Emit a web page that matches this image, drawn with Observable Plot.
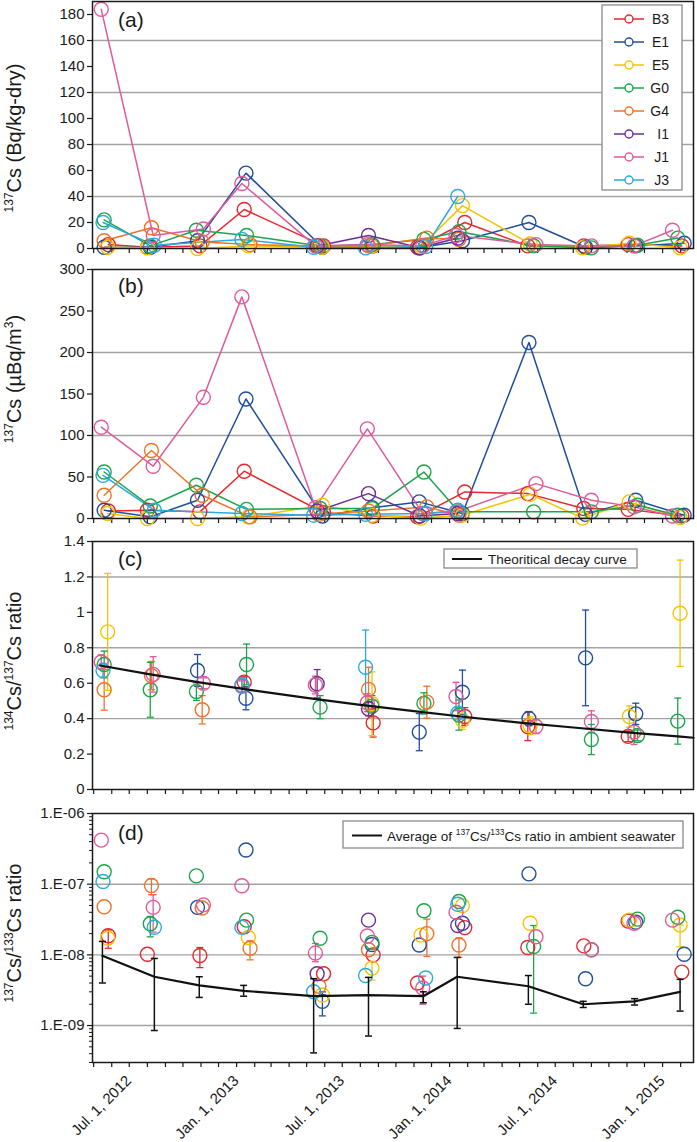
<!DOCTYPE html>
<html><head><meta charset="utf-8">
<script src="https://cdn.jsdelivr.net/npm/d3@7"></script>
<script src="https://cdn.jsdelivr.net/npm/@observablehq/plot@0.6"></script>
<style>
body{margin:0;background:#fff;}
#chart{width:697px;}
#chart svg{display:block;}
</style></head><body><div id="chart"></div>
<script>
// ---------------- DATA ----------------
const stations = ["B3","E1","E5","G0","G4","I1","J1","J3"];
const stationColors = ["#e8262b","#1f4e9c","#f5c400","#1ba54b","#f07228","#6b2f8f","#e05a9c","#2ea8df"];

// sampling campaigns (base dates) and per-station day offsets
const sampleDates = ["2012-05-16","2012-08-08","2012-10-28","2013-01-14","2013-05-18","2013-08-13",
                     "2013-11-11","2014-01-15","2014-05-17","2014-08-19","2014-11-09","2015-01-29"];
const dayOffset = {
  B3:[10,-7,2,0,12,10,-4,12,-2,0,-6,5],
  E1:[3,-2,-2,3,10,8,-1,8,0,3,7,9],
  E5:[9,-7,-2,7,10,8,2,8,2,-2,-4,2],
  G0:[3,-2,-4,4,6,8,7,2,8,13,10,-2],
  G4:[3,0,6,10,4,2,12,2,0,0,0,0],
  I1:[0,0,0,0,1,2,0,0,0,0,0,0],
  J1:[-2,3,8,-4,-2,0,5,-3,12,13,4,-11],
  J3:[1,5,0,-4,-5,-3,10,0,0,0,0,0]
};

// (a) 137Cs in sediment (Bq/kg-dry)
const cs137Sed = {
  B3:[3,1,2,30,2,2,1,20,2,2,3,2],
  E1:[1,1,6,58,1,2,0.5,6,20,1,2,4],
  E5:[1,0.5,0,2,1,2,1.5,33,3.5,0.5,4,0.5],
  G0:[22,2,14,10,2,3,7,13,2,0.5,2.5,8],
  G4:[6,16,5,3,2,2,8,7,null,null,null,null],
  I1:[null,null,null,null,2,10,0.5,8,null,null,null,null],
  J1:[184,10,15,50,2,3,2,10,3,2,2,14],
  J3:[20,2.5,null,7,1,0.5,1.5,40,null,null,null,null]
};

// (b) 137Cs (µBq/m3)
const cs137Air = {
  B3:[9,10,8,57,7,3,2,32,30,12,11,3],
  E1:[10,2,22,144,3,13,20,6,212,5,22,4],
  E5:[6,0,0,2,16,4,0.5,4,29,0.5,20,1],
  G0:[56,15,40,11,12,12,56,8,8,8,16,4],
  G4:[28,82,28,2,5,9,14,4,null,null,null,null],
  I1:[null,null,null,null,9,30,3,6,null,null,null,null],
  J1:[110,63,146,267,13,108,6,8,42,22,14,3],
  J3:[52,10,null,6,4,5,6,10,null,null,null,null]
};

// (c) 134Cs/137Cs ratio and ± error
const ratio134 = {
  B3:[null,null,null,0.606,null,0.376,null,0.412,0.356,null,0.30,null],
  E1:[null,null,0.672,0.515,null,null,0.324,0.549,0.40,0.743,0.427,null],
  E5:[0.89,null,null,null,null,0.484,null,0.39,0.36,null,0.412,0.995],
  G0:[0.706,0.563,0.553,0.706,0.465,0.47,0.486,0.42,null,0.282,0.305,0.386],
  G4:[0.563,0.643,0.45,null,null,0.565,0.493,null,null,null,null,null],
  I1:[null,null,null,null,0.597,0.456,null,null,null,null,null,null],
  J1:[0.72,0.65,0.60,0.583,0.59,0.49,null,0.525,0.356,0.384,0.324,null],
  J3:[0.672,null,null,0.59,null,0.69,null,0.431,null,null,null,null]
};
const ratio134Err = {
  B3:[null,null,null,0.03,null,0.08,null,0.05,0.08,null,0.03,null],
  E1:[null,null,0.09,0.065,null,null,0.105,0.125,0.04,0.27,0.06,null],
  E5:[0.33,null,null,null,null,0.18,null,0.05,0.05,null,0.06,0.30],
  G0:[0.075,0.155,0.05,0.115,0.065,0.06,0.06,0.085,null,0.085,0.03,0.13],
  G4:[0.115,0.08,0.08,null,null,0.125,0.09,null,null,null,null,null],
  I1:[null,null,null,null,0.08,0.04,null,null,null,null,null,null],
  J1:[0.04,0.10,0.03,0.03,0.05,0.05,null,0.08,0.04,0.06,0.07,null],
  J3:[0.04,null,null,0.04,null,0.21,null,0.03,null,null,null,null]
};
const decayDates = ["2012-05-12","2012-08-01","2012-11-01","2013-02-01","2013-05-01","2013-08-01","2013-11-01",
                    "2014-02-01","2014-05-01","2014-08-01","2014-11-01","2015-02-01","2015-02-23"];
const decayRatio = [0.70,0.653,0.603,0.558,0.517,0.478,0.442,0.408,0.378,0.350,0.323,0.298,0.292];

// (d) 137Cs/133Cs ratio
const ratio133 = {
  B3:[1.86e-8,1.02e-8,9.8e-9,2.5e-8,5.4e-9,1.0e-8,4.0e-9,2.43e-8,1.27e-8,1.34e-8,3.0e-8,5.7e-9],
  E1:[null,null,4.7e-8,3.05e-7,2.2e-9,1.4e-8,1.38e-8,2.8e-8,1.4e-7,4.6e-9,2.9e-8,1.02e-8],
  E5:[1.72e-8,null,null,1.76e-8,2.7e-9,6.5e-9,1.9e-8,5.0e-8,2.8e-8,null,3.1e-8,2.65e-8],
  G0:[1.5e-7,2.75e-8,1.31e-7,3.1e-8,1.72e-8,1.5e-8,4.2e-8,5.7e-8,1.31e-8,1.18e-8,3.2e-8,3.4e-8],
  G4:[4.8e-8,9.6e-8,4.6e-8,1.24e-8,3.6e-9,1.18e-8,2.0e-8,1.38e-8,null,null,null,null],
  I1:[null,null,null,null,5.4e-9,3.1e-8,null,2.6e-8,null,null,null,null],
  J1:[4.2e-7,4.7e-8,5.1e-8,9.5e-8,1.06e-8,1.85e-8,3.4e-9,4.0e-8,1.8e-8,1.18e-8,2.8e-8,3.1e-8],
  J3:[1.09e-7,2.46e-8,null,2.45e-8,3.0e-9,5.1e-9,4.7e-9,5.2e-8,null,null,null,null]
};
// [station, campaign index, low, high]
const ratio133Err = [
  ["B3",0,1.24e-8,2.25e-8],["B3",2,6.6e-9,1.27e-8],
  ["G4",1,7.1e-8,1.19e-7],["G4",3,8.5e-9,1.58e-8],["G4",6,9.5e-9,3.2e-8],["G4",7,9.2e-9,1.74e-8],
  ["J1",1,2.1e-8,7.1e-8],["J1",4,8e-9,1.45e-8],["J1",6,2.0e-9,5e-9],
  ["G0",1,1.8e-8,3.5e-8],["G0",8,1.5e-9,2.6e-8],
  ["E1",4,1.37e-9,3.0e-9],["E5",5,4.4e-9,8e-9],["E5",11,1.3e-8,2.65e-8]
];
const avgDates = ["2012-05-16","2012-08-13","2012-10-29","2013-01-13","2013-05-13","2013-08-15",
                  "2013-11-17","2014-01-14","2014-05-16","2014-08-18","2014-11-14","2015-01-31"];
const avgRatio = [9.7e-9,4.9e-9,3.7e-9,3.1e-9,2.6e-9,2.7e-9,2.6e-9,4.9e-9,3.6e-9,2.0e-9,2.2e-9,3.0e-9];
const avgLow   = [4.0e-9,8.5e-10,2.5e-9,2.6e-9,4.1e-10,7.1e-10,2.1e-9,9.1e-10,2.0e-9,1.8e-9,1.95e-9,1.6e-9];
const avgHigh  = [1.55e-8,8.9e-9,4.9e-9,3.7e-9,4.6e-9,4.8e-9,3.0e-9,9.2e-9,5.1e-9,2.2e-9,2.4e-9,4.5e-9];

// axis ticks
const xTickDates = ["2012-07-01","2013-01-01","2013-07-01","2014-01-01","2014-07-01","2015-01-01"];
const xTickLabels = ["Jul. 1, 2012","Jan. 1, 2013","Jul. 1, 2013","Jan. 1, 2014","Jul. 1, 2014","Jan. 1, 2015"];
const aTicks = [0,20,40,60,80,100,120,140,160,180], aGrid = [40,80,120,160];
const bTicks = [0,50,100,150,200,250,300], bGrid = [100,200];
const cTicks = [0,0.2,0.4,0.6,0.8,1,1.2,1.4], cTickLabels = ["0","0.2","0.4","0.6","0.8","1","1.2","1.4"], cGrid=[0.4,0.8,1.2];
const dTicks = [1e-6,1e-7,1e-8,1e-9], dTickLabels = ["1.E-06","1.E-07","1.E-08","1.E-09"], dGrid=[1e-7,1e-8,1e-9];

// ---------------- BUILD ----------------
const DAY = 864e5;
const rows = [];
stations.forEach(s => sampleDates.forEach((d,k) => rows.push({
  station:s, k, date:new Date(Date.parse(d) + dayOffset[s][k]*DAY),
  a:cs137Sed[s][k], b:cs137Air[s][k], c:ratio134[s][k], cErr:ratio134Err[s][k], d:ratio133[s][k]
})));
const errD = ratio133Err.map(([s,k,lo,hi]) => ({station:s, date:new Date(Date.parse(sampleDates[k]) + dayOffset[s][k]*DAY), lo, hi}));
const decay = decayDates.map((d,i)=>({date:new Date(d), v:decayRatio[i]}));
const avg = avgDates.map((d,i)=>({date:new Date(d), v:avgRatio[i], lo:avgLow[i], hi:avgHigh[i]}));
const xt = xTickDates.map((d,i)=>({date:new Date(d), label:xTickLabels[i]}));

const FONT = "'Liberation Sans', Arial, Helvetica, sans-serif";
const INK = "#1a1a1a";
const xDomain = [new Date("2012-04-29"), new Date("2015-02-23")];
const monthTicks = d3.utcMonth.range(new Date("2012-05-01"), new Date("2015-02-02"));
const capSymbol = {draw(ctx, size){ const w = Math.sqrt(size/Math.PI); ctx.moveTo(-w,0); ctx.lineTo(w,0);} };

function base(h, mt, mb, y){
  return {width:697, height:h, marginLeft:92, marginRight:4, marginTop:mt, marginBottom:mb,
    style:{fontFamily:FONT, fontSize:"15px", color:INK, background:"#fff", overflow:"visible"},
    x:{type:"utc", domain:xDomain}, y, color:{domain:stations, range:stationColors}};
}
function axes(ticks, labels, grid){
  return [
    Plot.gridY(grid, {stroke:"#a3a3a3", strokeOpacity:1, strokeWidth:1.4}),
    Plot.axisX(monthTicks, {tickSize:5, tickFormat:()=>"", label:null, strokeWidth:1.2}),
    Plot.axisY(ticks, {tickSize:5, tickPadding:3, label:null, fontSize:15, strokeWidth:1.2,
      tickFormat: labels ? (d => labels[ticks.indexOf(d)]) : (d => String(d))})
  ];
}
const frame = Plot.frame({stroke:INK, strokeWidth:1.5});

function yLabel(svg, cy, parts){
  const t = d3.select(svg).append("text").attr("transform",`translate(21,${cy}) rotate(-90)`)
    .attr("text-anchor","middle").attr("font-size",20).attr("fill",INK).attr("font-family",FONT);
  let up = false;
  parts.forEach(([txt, sup]) => {
    const sp = t.append("tspan").text(txt).attr("font-size", sup?12:20);
    if (sup && !up) { sp.attr("dy",-8); up = true; }
    else if (!sup && up) { sp.attr("dy",8); up = false; }
  });
}
function panelLabel(svg, y, txt){
  d3.select(svg).append("text").attr("x",118).attr("y",y).attr("font-size",21).attr("fill",INK)
    .attr("text-anchor","start").attr("font-family",FONT).text(txt);
}

const chart = document.getElementById("chart");

// ---- (a)
const rowsA = rows.filter(d=>d.a!=null);
const svgA = Plot.plot({...base(255,1,7,{domain:[0,190]}), marks:[
  ...axes(aTicks,null,aGrid),
  Plot.line(rowsA,{x:"date",y:"a",z:"station",stroke:"station",strokeWidth:1.5}),
  Plot.dot(rowsA,{x:"date",y:"a",stroke:"station",r:7,strokeWidth:1.4}),
  frame
]});
chart.appendChild(svgA);
yLabel(svgA,138,[["137",true],["Cs (Bq/kg-dry)",false]]);
panelLabel(svgA,27,"(a)");
{
  const g = d3.select(svgA).append("g").attr("font-family",FONT);
  g.append("rect").attr("x",602).attr("y",5).attr("width",80).attr("height",185)
    .attr("fill","#fff").attr("stroke","#8a8a8a").attr("stroke-width",1.3);
  stations.forEach((s,i)=>{
    const y = 19 + 23*i, c = stationColors[i];
    g.append("line").attr("x1",614).attr("x2",644).attr("y1",y).attr("y2",y).attr("stroke",c).attr("stroke-width",1.5);
    g.append("circle").attr("cx",629).attr("cy",y).attr("r",4).attr("fill","#fff").attr("stroke",c).attr("stroke-width",1.4);
    g.append("text").attr("x",669).attr("y",y).attr("dy","0.36em").attr("text-anchor","end")
      .attr("font-size",14).attr("fill",INK).text(s);
  });
}

// ---- (b)
const rowsB = rows.filter(d=>d.b!=null);
const svgB = Plot.plot({...base(270,14,7,{domain:[0,300]}), marks:[
  ...axes(bTicks,null,bGrid),
  Plot.line(rowsB,{x:"date",y:"b",z:"station",stroke:"station",strokeWidth:1.5}),
  Plot.dot(rowsB,{x:"date",y:"b",stroke:"station",r:7,strokeWidth:1.4}),
  frame
]});
chart.appendChild(svgB);
yLabel(svgB,124,[["137",true],["Cs (\u00b5Bq/m",false],["3",true],[")",false]]);
panelLabel(svgB,38,"(b)");

// ---- (c)
const rowsC = rows.filter(d=>d.c!=null);
const errC = rowsC.filter(d=>d.cErr!=null);
const svgC = Plot.plot({...base(271,16,7,{domain:[0,1.4]}), marks:[
  ...axes(cTicks,cTickLabels,cGrid),
  Plot.ruleX(errC,{x:"date",y1:d=>d.c-d.cErr,y2:d=>d.c+d.cErr,stroke:"station",strokeWidth:1.3}),
  Plot.dot(errC,{x:"date",y:d=>d.c+d.cErr,symbol:capSymbol,r:3.5,stroke:"station",fill:"none",strokeWidth:1.3}),
  Plot.dot(errC,{x:"date",y:d=>d.c-d.cErr,symbol:capSymbol,r:3.5,stroke:"station",fill:"none",strokeWidth:1.3}),
  Plot.dot(rowsC,{x:"date",y:"c",stroke:"station",r:7,strokeWidth:1.4}),
  Plot.line(decay,{x:"date",y:"v",stroke:"#111",strokeWidth:2.2}),
  frame
]});
chart.appendChild(svgC);
yLabel(svgC,136,[["134",true],["Cs/",false],["137",true],["Cs ratio",false]]);
panelLabel(svgC,41,"(c)");
{
  const g = d3.select(svgC).append("g").attr("font-family",FONT);
  g.append("rect").attr("x",444).attr("y",24).attr("width",193).attr("height",19)
    .attr("fill","#fff").attr("stroke","#8a8a8a").attr("stroke-width",1.3);
  g.append("line").attr("x1",452).attr("x2",482).attr("y1",34).attr("y2",34).attr("stroke","#111").attr("stroke-width",2);
  g.append("text").attr("x",488).attr("y",34).attr("dy","0.36em").attr("font-size",13.5).attr("fill",INK)
    .attr("text-anchor","start").text("Theoritical decay curve");
}

// ---- (d)
const rowsD = rows.filter(d=>d.d!=null);
const dMinor = [];
for (const e of [-10,-9,-8,-7]) for (let m=2;m<=9;m++){ const v=m*Math.pow(10,e); if (v>=3e-10 && v<1e-6) dMinor.push(v); }
const svgD = Plot.plot({...base(346,17,80,{type:"log",domain:[3e-10,1e-6]}), marks:[
  ...axes(dTicks,dTickLabels,dGrid),
  Plot.axisY(dMinor,{tickSize:3,tickFormat:()=>"",label:null,strokeWidth:1}),
  Plot.ruleX(errD,{x:"date",y1:"lo",y2:"hi",stroke:"station",strokeWidth:1.3}),
  Plot.dot(errD,{x:"date",y:"hi",symbol:capSymbol,r:3.5,stroke:"station",fill:"none",strokeWidth:1.3}),
  Plot.dot(errD,{x:"date",y:"lo",symbol:capSymbol,r:3.5,stroke:"station",fill:"none",strokeWidth:1.3}),
  Plot.dot(rowsD,{x:"date",y:"d",stroke:"station",r:7,strokeWidth:1.4}),
  Plot.ruleX(avg,{x:"date",y1:"lo",y2:"hi",stroke:"#111",strokeWidth:1.5}),
  Plot.dot(avg,{x:"date",y:"hi",symbol:capSymbol,r:3.5,stroke:"#111",fill:"none",strokeWidth:1.5}),
  Plot.dot(avg,{x:"date",y:"lo",symbol:capSymbol,r:3.5,stroke:"#111",fill:"none",strokeWidth:1.5}),
  Plot.line(avg,{x:"date",y:"v",stroke:"#111",strokeWidth:2.2}),
  Plot.text(xt,{x:"date",text:"label",frameAnchor:"bottom",rotate:-45,textAnchor:"end",dx:3,dy:19,fontSize:15,fill:INK}),
  frame
]});
chart.appendChild(svgD);
yLabel(svgD,137,[["137",true],["Cs/",false],["133",true],["Cs ratio",false]]);
panelLabel(svgD,44,"(d)");
{
  const g = d3.select(svgD).append("g").attr("font-family",FONT);
  g.append("rect").attr("x",343).attr("y",25).attr("width",340).attr("height",27)
    .attr("fill","#fff").attr("stroke","#8a8a8a").attr("stroke-width",1.3);
  g.append("line").attr("x1",352).attr("x2",382).attr("y1",39.5).attr("y2",39.5).attr("stroke","#111").attr("stroke-width",2);
  const t = g.append("text").attr("x",387).attr("y",44.5).attr("font-size",13.5).attr("fill",INK).attr("text-anchor","start");
  t.append("tspan").text("Average of ");
  t.append("tspan").text("137").attr("font-size",8.5).attr("dy",-5.5);
  t.append("tspan").text("Cs/").attr("dy",5.5);
  t.append("tspan").text("133").attr("font-size",8.5).attr("dy",-5.5);
  t.append("tspan").text("Cs ratio in ambient seawater").attr("dy",5.5);
}
</script></body></html>
